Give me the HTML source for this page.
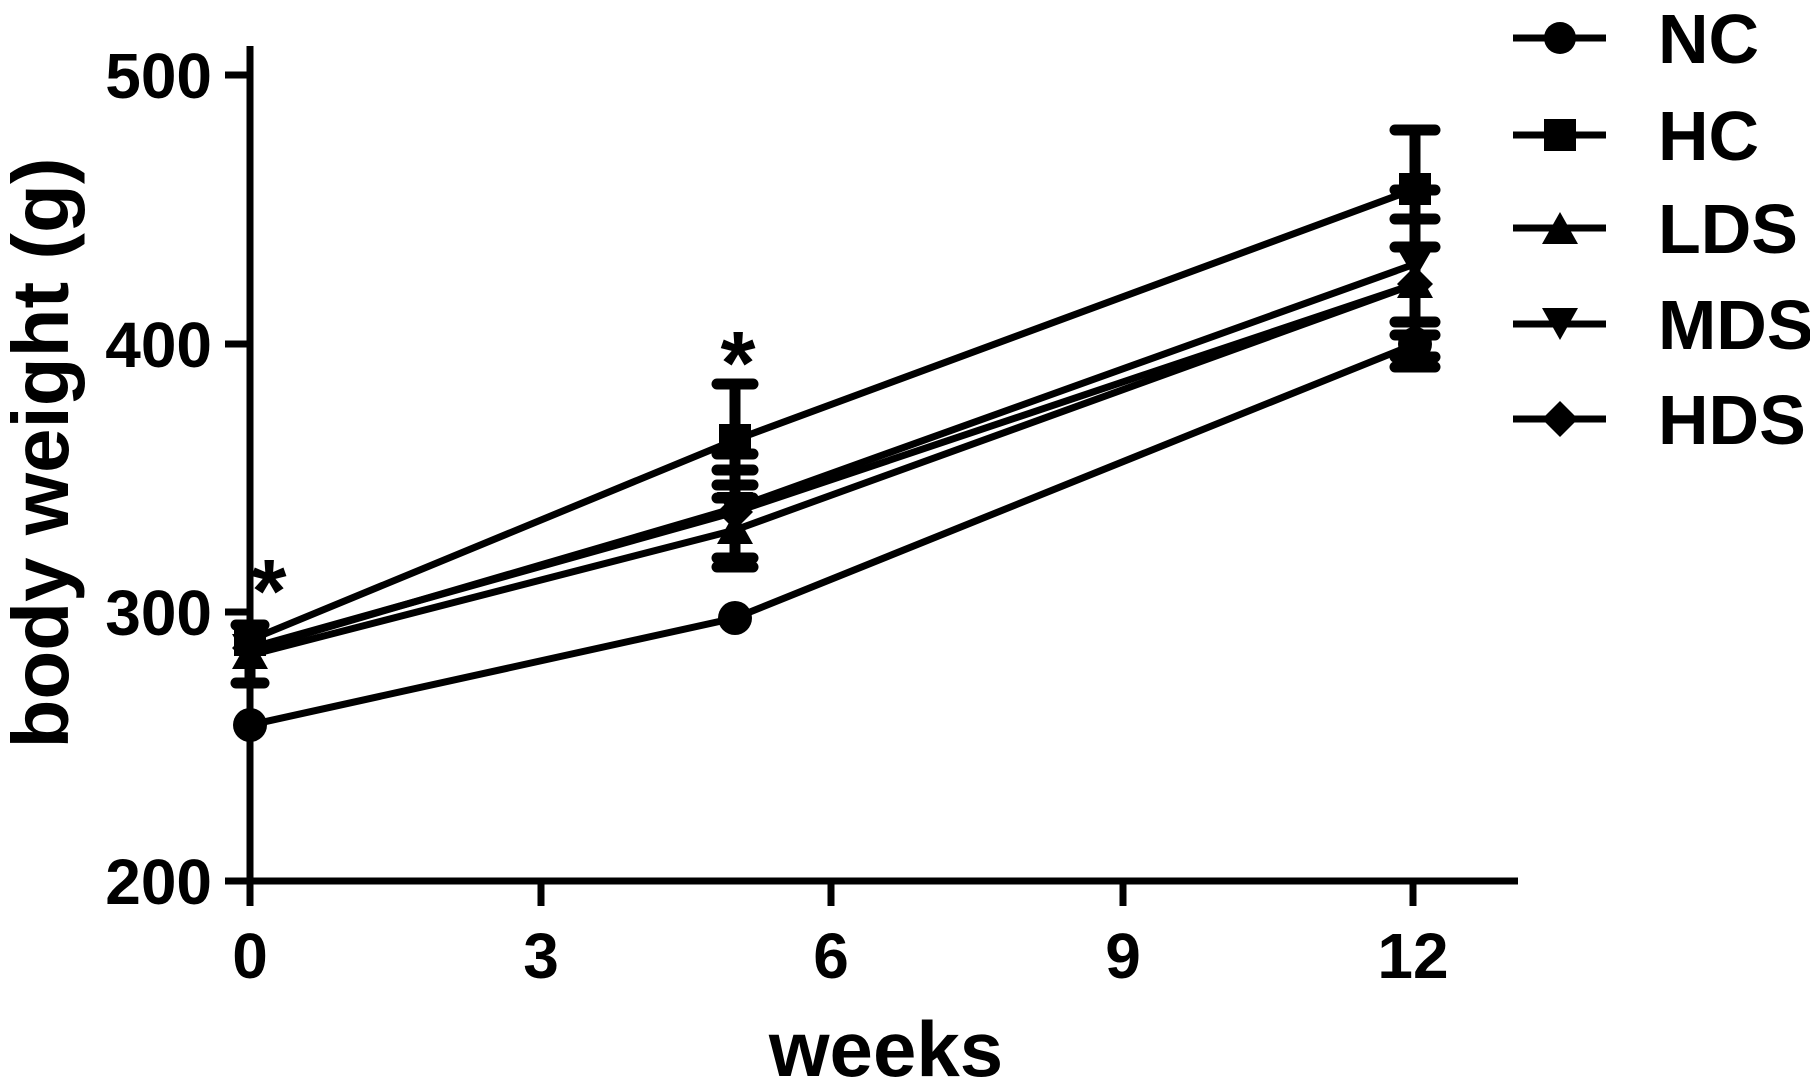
<!DOCTYPE html>
<html><head><style>
html,body{margin:0;padding:0;background:#fff;}
svg{display:block;}
text{font-family:"Liberation Sans",Arial,sans-serif;font-weight:bold;fill:#000;}
</style></head><body>
<svg width="1810" height="1085" viewBox="0 0 1810 1085" xmlns="http://www.w3.org/2000/svg">
<g stroke="#000" stroke-width="7" fill="none" stroke-linecap="butt">
<line x1="250" y1="46" x2="250" y2="906"/>
<line x1="225" y1="881" x2="1518" y2="881"/>
<line x1="225" y1="75" x2="250" y2="75"/>
<line x1="225" y1="344" x2="250" y2="344"/>
<line x1="225" y1="612" x2="250" y2="612"/>
<line x1="541" y1="881" x2="541" y2="906"/>
<line x1="831" y1="881" x2="831" y2="906"/>
<line x1="1123" y1="881" x2="1123" y2="906"/>
<line x1="1413" y1="881" x2="1413" y2="906"/>
</g>
<g font-size="64" text-anchor="end">
<text x="212" y="98">500</text>
<text x="212" y="367">400</text>
<text x="212" y="635">300</text>
<text x="212" y="904">200</text>
</g>
<g font-size="64" text-anchor="middle">
<text x="250" y="978">0</text>
<text x="541" y="978">3</text>
<text x="831" y="978">6</text>
<text x="1123" y="978">9</text>
<text x="1413" y="978">12</text>
</g>
<text x="886" y="1076" font-size="78" text-anchor="middle">weeks</text>
<text transform="translate(68,453) rotate(-90)" font-size="80" text-anchor="middle">body weight (g)</text>
<!-- series lines -->
<g stroke="#000" stroke-width="7" fill="none">
<polyline points="250,725 735,618 1415,344"/>
<polyline points="250,640 735,440 1415,189"/>
<polyline points="250,655 735,530 1415,284"/>
<polyline points="250,650 735,508 1415,264"/>
<polyline points="250,648 735,512 1415,284"/>
</g>
<!-- error bars -->
<g stroke="#000" stroke-width="11" stroke-linecap="round">
<line x1="1415" y1="130" x2="1415" y2="367"/>
<line x1="1395" y1="130" x2="1435" y2="130"/>
<line x1="1395" y1="190" x2="1435" y2="190"/>
<line x1="1395" y1="219" x2="1435" y2="219"/>
<line x1="1395" y1="247" x2="1435" y2="247"/>
<line x1="1395" y1="322" x2="1435" y2="322"/>
<line x1="1395" y1="335" x2="1435" y2="335"/>
<line x1="1395" y1="357" x2="1435" y2="357"/>
<line x1="1395" y1="367" x2="1435" y2="367"/>
<line x1="735" y1="384" x2="735" y2="567"/>
<line x1="717" y1="384" x2="753" y2="384"/>
<line x1="717" y1="454" x2="753" y2="454"/>
<line x1="717" y1="470" x2="753" y2="470"/>
<line x1="717" y1="485" x2="753" y2="485"/>
<line x1="717" y1="498" x2="753" y2="498"/>
<line x1="717" y1="558" x2="753" y2="558"/>
<line x1="717" y1="567" x2="753" y2="567"/>
<line x1="250" y1="625" x2="250" y2="683"/>
<line x1="236" y1="625" x2="264" y2="625"/>
<line x1="236" y1="683" x2="264" y2="683"/>
</g>
<!-- markers -->
<g fill="#000">
<circle cx="250" cy="725" r="17"/><circle cx="735" cy="618" r="17"/><circle cx="1415" cy="344" r="17"/>
<rect x="234" y="624" width="32" height="32"/><rect x="719" y="424" width="32" height="32"/><rect x="1399" y="173" width="32" height="32"/>
<polygon points="250,637 268,669 232,669"/><polygon points="735,512 753,544 717,544"/><polygon points="1415,266 1433,298 1397,298"/>
<polygon points="232,634 268,634 250,665"/><polygon points="717,492 753,492 735,523"/><polygon points="1397,248 1433,248 1415,279"/>
<polygon points="250,630 268,648 250,666 232,648"/><polygon points="735,494 753,512 735,530 717,512"/><polygon points="1415,266 1433,284 1415,302 1397,284"/>
</g>
<text x="269" y="622" font-size="90" text-anchor="middle">*</text>
<text x="738" y="394" font-size="90" text-anchor="middle">*</text>
<!-- legend -->
<g stroke="#000" stroke-width="7">
<line x1="1513" y1="38" x2="1606" y2="38"/>
<line x1="1513" y1="135" x2="1606" y2="135"/>
<line x1="1513" y1="228" x2="1606" y2="228"/>
<line x1="1513" y1="324" x2="1606" y2="324"/>
<line x1="1513" y1="419" x2="1606" y2="419"/>
</g>
<g fill="#000">
<circle cx="1560" cy="38" r="16"/>
<rect x="1544" y="119" width="32" height="32"/>
<polygon points="1560,212 1578,244 1542,244"/>
<polygon points="1542,308 1578,308 1560,340"/>
<polygon points="1560,401 1578,419 1560,437 1542,419"/>
</g>
<g font-size="70">
<text x="1658" y="63">NC</text>
<text x="1658" y="160">HC</text>
<text x="1658" y="253">LDS</text>
<text x="1658" y="349">MDS</text>
<text x="1658" y="444">HDS</text>
</g>
</svg>
</body></html>
